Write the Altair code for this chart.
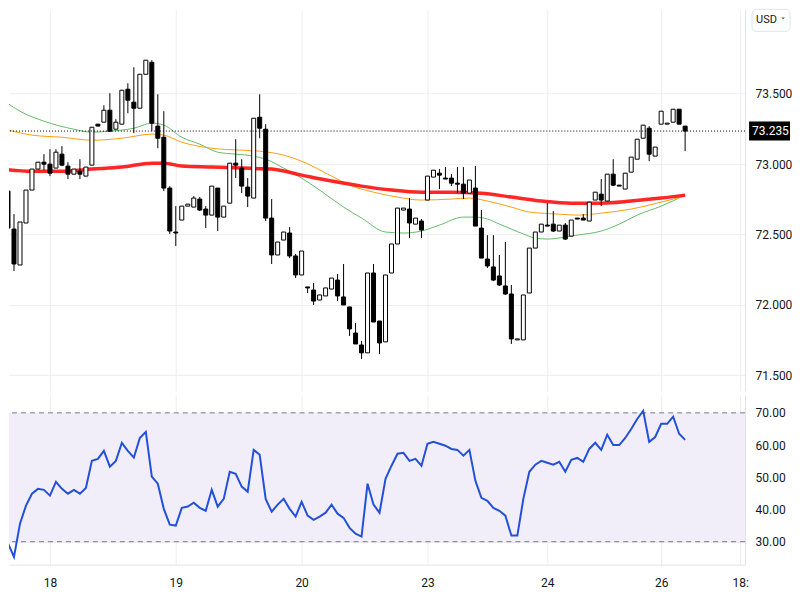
import altair as alt
import pandas as pd

# ---------------- data ----------------
opens = [72.858, 72.809, 72.539, 72.284, 72.582, 72.816, 72.965, 73.014, 73.000, 72.972,
         73.071, 72.986, 72.929, 72.950, 72.915, 72.993, 73.284, 73.298, 73.383, 73.248,
         73.284, 73.532, 73.440, 73.397, 73.638, 73.723, 73.270, 73.191, 72.830, 72.518,
         72.603, 72.702, 72.695, 72.752, 72.681, 72.638, 72.830, 72.624, 72.723, 73.007,
         72.972, 72.837, 72.759, 73.333, 73.248, 72.617, 72.355, 72.461, 72.511, 72.348,
         72.213, 72.128, 72.106, 72.035, 72.064, 72.113, 72.177, 72.057, 71.986, 71.801,
         71.716, 71.660, 72.227, 71.886, 71.738, 72.227, 72.433, 72.674, 72.681, 72.574,
         72.596, 72.745, 72.908, 72.936, 72.901, 72.901, 72.865, 72.858, 72.794, 72.830,
         72.546, 72.326, 72.270, 72.206, 72.135, 72.078, 71.752, 71.752, 72.085, 72.404,
         72.518, 72.567, 72.574, 72.525, 72.567, 72.489, 72.617, 72.617, 72.596, 72.745,
         72.787, 72.738, 72.929, 72.851, 72.823, 72.943, 73.035, 73.184, 73.255, 73.057,
         73.284, 73.284, 73.298, 73.390, 73.270]
highs = [73.057, 72.809, 72.645, 72.589, 72.816, 72.965, 73.014, 73.071, 73.106, 73.106,
         73.128, 73.014, 72.965, 73.035, 72.979, 73.262, 73.284, 73.418, 73.504, 73.319,
         73.525, 73.574, 73.688, 73.638, 73.738, 73.738, 73.496, 73.376, 72.844, 72.702,
         72.702, 72.716, 72.773, 72.766, 72.702, 72.844, 72.830, 72.702, 73.007, 73.177,
         73.035, 72.901, 73.326, 73.496, 73.284, 72.752, 72.447, 72.518, 72.553, 72.362,
         72.383, 72.128, 72.156, 72.071, 72.121, 72.191, 72.220, 72.291, 71.986, 71.872,
         71.745, 72.227, 72.291, 71.886, 72.213, 72.433, 72.688, 72.688, 72.759, 72.617,
         72.610, 72.915, 72.957, 72.965, 72.979, 72.929, 72.979, 72.979, 72.887, 72.986,
         72.674, 72.496, 72.496, 72.355, 72.447, 72.142, 71.759, 72.071, 72.404, 72.518,
         72.574, 72.723, 72.667, 72.567, 72.582, 72.603, 72.617, 72.645, 72.730, 72.801,
         72.894, 72.929, 73.035, 72.851, 72.936, 73.050, 73.177, 73.277, 73.270, 73.121,
         73.376, 73.291, 73.390, 73.390, 73.270]
lows = [72.773, 72.468, 72.241, 72.284, 72.582, 72.816, 72.965, 72.957, 72.915, 72.972,
        72.986, 72.894, 72.929, 72.894, 72.915, 72.993, 73.270, 73.298, 73.234, 73.248,
        73.284, 73.362, 73.220, 73.397, 73.638, 73.234, 73.113, 72.809, 72.504, 72.418,
        72.603, 72.702, 72.695, 72.667, 72.546, 72.638, 72.525, 72.624, 72.723, 72.901,
        72.794, 72.695, 72.759, 73.184, 72.596, 72.291, 72.355, 72.461, 72.333, 72.191,
        72.213, 72.085, 72.000, 72.035, 72.064, 72.113, 72.028, 72.000, 71.780, 71.723,
        71.617, 71.660, 71.879, 71.652, 71.738, 72.227, 72.433, 72.674, 72.475, 72.574,
        72.475, 72.745, 72.908, 72.823, 72.894, 72.844, 72.794, 72.752, 72.794, 72.560,
        72.333, 72.262, 72.170, 72.135, 72.071, 71.723, 71.752, 71.752, 72.085, 72.404,
        72.518, 72.560, 72.518, 72.525, 72.461, 72.489, 72.610, 72.603, 72.596, 72.745,
        72.702, 72.738, 72.844, 72.844, 72.823, 72.943, 73.035, 73.184, 73.021, 73.057,
        73.284, 73.284, 73.298, 73.284, 73.092]
closes = [72.823, 72.546, 72.291, 72.589, 72.816, 72.965, 73.014, 73.000, 72.936, 73.085,
          72.993, 72.929, 72.965, 72.929, 72.979, 73.262, 73.270, 73.383, 73.234, 73.298,
          73.525, 73.454, 73.397, 73.638, 73.738, 73.291, 73.184, 72.830, 72.525, 72.511,
          72.702, 72.716, 72.759, 72.674, 72.638, 72.844, 72.624, 72.702, 73.007, 72.993,
          72.844, 72.773, 73.326, 73.255, 72.617, 72.355, 72.447, 72.518, 72.348, 72.213,
          72.383, 72.121, 72.028, 72.071, 72.121, 72.191, 72.064, 72.000, 71.830, 71.723,
          71.660, 72.227, 71.879, 71.730, 72.213, 72.433, 72.688, 72.688, 72.582, 72.617,
          72.532, 72.915, 72.957, 72.922, 72.894, 72.865, 72.858, 72.794, 72.887, 72.560,
          72.333, 72.277, 72.177, 72.142, 72.078, 71.759, 71.759, 72.071, 72.404, 72.518,
          72.574, 72.560, 72.525, 72.567, 72.468, 72.603, 72.610, 72.603, 72.730, 72.801,
          72.745, 72.929, 72.851, 72.844, 72.936, 73.050, 73.177, 73.277, 73.071, 73.121,
          73.376, 73.291, 73.390, 73.284, 73.235]

rsi = [33.4, 29.5, 25.3, 35.6, 41.2, 44.9, 46.4, 46.1, 44.3, 48.6,
       46.4, 44.9, 46.1, 44.9, 46.7, 55.1, 55.7, 58.2, 53.3, 55.1,
       60.7, 58.2, 56.1, 62.2, 64.1, 50.2, 48.0, 40.2, 35.3, 35.0,
       40.5, 40.9, 42.1, 40.5, 39.6, 46.1, 40.9, 43.3, 51.7, 51.1,
       47.1, 45.5, 58.5, 57.0, 43.3, 39.3, 41.5, 43.3, 40.2, 37.8,
       42.4, 38.1, 36.8, 37.8, 39.0, 41.5, 38.7, 37.4, 34.3, 32.5,
       31.6, 48.0, 41.5, 39.0, 49.5, 53.6, 57.3, 57.6, 55.1, 55.7,
       53.6, 60.4, 61.0, 60.4, 59.8, 58.8, 58.5, 56.7, 58.5, 48.9,
       43.6, 42.7, 40.5, 39.6, 38.1, 31.9, 31.9, 43.3, 51.7, 53.9,
       55.1, 54.5, 53.9, 54.8, 51.7, 55.4, 56.0, 54.8, 58.8, 60.7,
       58.5, 63.2, 60.0, 60.0, 62.2, 65.0, 68.1, 70.6, 61.0, 62.5,
       66.6, 66.6, 68.8, 63.5, 61.6]

ma_red_idx = [0, 5, 10, 15, 20, 25, 27, 30, 35, 40, 45, 50, 55, 60, 65, 70, 75, 80,
              85, 90, 95, 100, 105, 110, 114]
ma_red = [72.965, 72.950, 72.950, 72.965, 72.979, 73.007, 73.007, 72.986, 72.979, 72.972,
          72.965, 72.922, 72.880, 72.844, 72.816, 72.801, 72.801, 72.794, 72.766, 72.738,
          72.723, 72.723, 72.738, 72.759, 72.780]

ma_orange_idx = [0, 5, 10, 15, 20, 25, 27, 30, 35, 40, 43, 47, 50, 55, 58, 62, 66, 70,
                 75, 78, 81, 85, 88, 93, 96, 100, 105, 110, 114]
ma_orange = [73.255, 73.206, 73.191, 73.170, 73.184, 73.213, 73.206, 73.156, 73.113, 73.099,
             73.092, 73.064, 73.021, 72.915, 72.851, 72.801, 72.766, 72.745, 72.752, 72.759,
             72.738, 72.695, 72.660, 72.645, 72.638, 72.652, 72.681, 72.730, 72.773]

ma_green_idx = [0, 3, 7, 12, 15, 18, 22, 25, 27, 30, 33, 36, 39, 42, 44, 47, 50, 53, 57,
                60, 64, 67, 70, 73, 77, 79, 81, 83, 85, 87, 89, 91, 94, 96, 100, 103, 106,
                110, 114]
ma_green = [73.461, 73.376, 73.305, 73.248, 73.227, 73.234, 73.255, 73.291, 73.277, 73.191,
            73.142, 73.085, 73.071, 73.057, 73.035, 72.972, 72.901, 72.816, 72.695, 72.617,
            72.518, 72.511, 72.525, 72.567, 72.624, 72.624, 72.610, 72.574, 72.539, 72.504,
            72.475, 72.468, 72.482, 72.496, 72.525, 72.574, 72.638, 72.702, 72.780]

last_price = [73.235]
price_ticks = [71.5, 72.0, 72.5, 73.0, 73.5]
rsi_ticks = [30, 40, 50, 60, 70]
rsi_band = [30, 70]
tick_idx = [8, 29, 50, 71, 91, 110, 123.2]
tick_lbl = ["18", "19", "20", "23", "24", "26", "18:"]

# ---------------- frames ----------------
candles = pd.DataFrame({
    "idx": list(range(len(opens))),
    "open": opens, "high": highs, "low": lows, "close": closes,
})
candles["up"] = candles["close"] >= candles["open"]

rsi_df = pd.DataFrame({"idx": list(range(len(rsi))), "rsi": rsi})
red_df = pd.DataFrame({"idx": ma_red_idx, "val": ma_red})
orange_df = pd.DataFrame({"idx": ma_orange_idx, "val": ma_orange})
green_df = pd.DataFrame({"idx": ma_green_idx, "val": ma_green})
last_df = pd.DataFrame({"p": last_price, "txt": [f"{v:.3f}" for v in last_price]})
band_df = pd.DataFrame({"lo": [rsi_band[0]], "hi": [rsi_band[1]]})
levels_df = pd.DataFrame({"lvl": rsi_band})

W = 737
H1 = 382
H2 = 170
GRID = "#eceef2"
TXT = "#131722"

label_expr = ""
for v, l in zip(tick_idx, tick_lbl):
    label_expr += f"abs(datum.value - {v}) < 0.01 ? '{l}' : "
label_expr += "''"

x_scale = alt.Scale(domain=[1.1667, 124.0], nice=False, zero=False, padding=0)
price_scale = alt.Scale(domain=[71.390, 74.099], nice=False, zero=False, padding=0)
rsi_scale = alt.Scale(domain=[22.87, 75.58], nice=False, zero=False, padding=0)

x_top = alt.X("idx:Q", scale=x_scale,
              axis=alt.Axis(values=tick_idx, labels=False, ticks=False, domain=False,
                            grid=True, gridColor=GRID, title=""))
x_bot = alt.X("idx:Q", scale=x_scale,
              axis=alt.Axis(values=tick_idx, labelExpr=label_expr, ticks=False,
                            domain=True, domainColor="#e0e3eb", grid=True, gridColor=GRID,
                            labelPadding=18, labelBaseline="middle", labelFontSize=12,
                            labelColor=TXT, labelFont="Roboto", title=""))

y_price_axis = alt.Axis(orient="right", values=price_ticks, format=".3f", ticks=False,
                        tickSize=0, labelPadding=10, domainColor="#e0e3eb",
                        gridColor=GRID, labelColor=TXT, labelFontSize=12,
                        labelFont="Roboto", title="")


def py(field):
    return alt.Y(f"{field}:Q", scale=price_scale, axis=y_price_axis)


lines = []
for df, col, sw in [(green_df, "#5cb860", 1.0), (orange_df, "#ff9800", 1.0),
                    (red_df, "#ff1a1a", 3.5)]:
    lines.append(alt.Chart(df).mark_line(color=col, strokeWidth=sw, interpolate="monotone",
                                         opacity=0.95, clip=True).encode(x=x_top, y=py("val")))

wicks = alt.Chart(candles).mark_rule(color="black", strokeWidth=1, clip=True).encode(
    x=x_top, y=py("low"), y2="high")
bodies = alt.Chart(candles).mark_bar(size=4, stroke="black", strokeWidth=1, clip=True).encode(
    x=x_top, y=py("open"), y2="close",
    fill=alt.condition("datum.up", alt.value("white"), alt.value("black")))

last_line = alt.Chart(last_df).mark_rule(color="black", strokeWidth=1, strokeDash=[1, 2]).encode(
    y=py("p"))
last_box = alt.Chart(last_df).mark_rect(color="black", yOffset=-9.5, y2Offset=9.5).encode(
    y=py("p"), y2="p", x=alt.value(W + 4), x2=alt.value(W + 45))
last_txt = alt.Chart(last_df).mark_text(color="white", fontSize=12, font="Roboto",
                                        align="left", baseline="middle").encode(
    y=py("p"), x=alt.value(W + 7), text="txt:N")

usd_box = alt.Chart(last_df).mark_rect(fill="white", stroke="#e0e3eb", strokeWidth=1,
                                       cornerRadius=4).encode(
    x=alt.value(W + 7), x2=alt.value(W + 45), y=alt.value(0), y2=alt.value(22))
usd_txt = alt.Chart(last_df).mark_text(text="USD", fontSize=11, font="Roboto", color=TXT,
                                       align="left", baseline="middle").encode(
    x=alt.value(W + 11), y=alt.value(11))
usd_chev = alt.Chart(last_df).mark_text(text="˅", fontSize=9, font="DejaVu Sans", color=TXT,
                                        align="center", baseline="middle").encode(
    x=alt.value(W + 38), y=alt.value(12))

top = alt.layer(*lines, wicks, bodies, last_line, last_box, last_txt,
                usd_box, usd_txt, usd_chev).properties(width=W, height=H1)

y_rsi_axis = alt.Axis(orient="right", values=rsi_ticks, format=".2f", ticks=False,
                      tickSize=0, labelPadding=10, domainColor="#e0e3eb",
                      gridColor="#e4e0ee", labelColor=TXT, labelFontSize=12,
                      labelFont="Roboto", title="")

band = alt.Chart(band_df).mark_rect(color="#f2eef9").encode(
    y=alt.Y("lo:Q", scale=rsi_scale, axis=y_rsi_axis), y2="hi")
levels = alt.Chart(levels_df).mark_rule(color="#787b86", strokeWidth=1,
                                        strokeDash=[5, 4]).encode(
    y=alt.Y("lvl:Q", scale=rsi_scale, axis=y_rsi_axis))
rsi_line = alt.Chart(rsi_df).mark_line(color="#2250d8", strokeWidth=2, clip=True).encode(
    x=x_bot, y=alt.Y("rsi:Q", scale=rsi_scale, axis=y_rsi_axis))

bottom = alt.layer(band, levels, rsi_line).properties(width=W, height=H2)

chart = alt.vconcat(top, bottom, spacing=4).properties(
    padding={"left": 0, "top": 0, "right": 0, "bottom": 0}
).configure_view(strokeWidth=0).configure_axis(labelFont="Roboto")

chart.save("out.html", embed_options={"renderer": "svg", "actions": False})
